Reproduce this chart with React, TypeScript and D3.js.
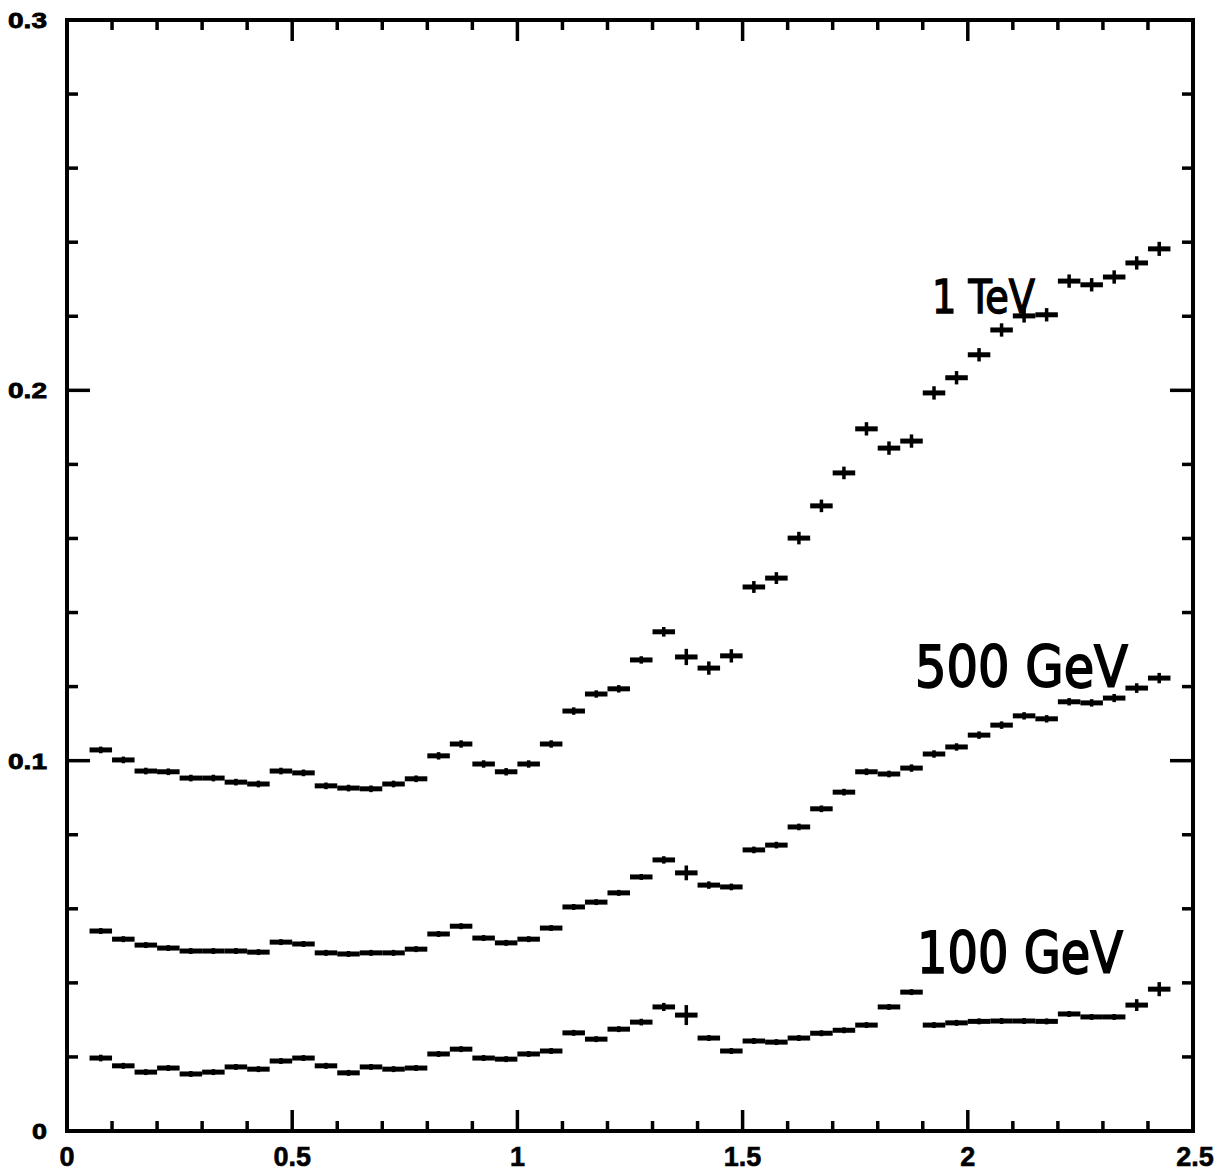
import React from "react";
import * as d3 from "d3";

// bin centres (bins of width 0.05)
const binCenters = [
  0.075, 0.125, 0.175, 0.225, 0.275, 0.325, 0.375, 0.425, 0.475, 0.525,
  0.575, 0.625, 0.675, 0.725, 0.775, 0.825, 0.875, 0.925, 0.975, 1.025,
  1.075, 1.125, 1.175, 1.225, 1.275, 1.325, 1.375, 1.425, 1.475, 1.525,
  1.575, 1.625, 1.675, 1.725, 1.775, 1.825, 1.875, 1.925, 1.975, 2.025,
  2.075, 2.125, 2.175, 2.225, 2.275, 2.325, 2.375, 2.425,
];
const binHalfWidth = 0.025;

const tev1Values = [
  0.1029, 0.1002, 0.0972, 0.097, 0.0953, 0.0953, 0.0942, 0.0937, 0.0972, 0.0967,
  0.0932, 0.0926, 0.0924, 0.0937, 0.0951, 0.1013, 0.1045, 0.0991, 0.097, 0.0991,
  0.1045, 0.1134, 0.118, 0.1194, 0.1272, 0.1348, 0.128, 0.125, 0.1283, 0.1469,
  0.1493, 0.1601, 0.1688, 0.1777, 0.1896, 0.1844, 0.1863, 0.1993, 0.2034, 0.2096,
  0.2163, 0.2201, 0.2204, 0.2295, 0.2285, 0.2306, 0.2344, 0.2382,
];
const tev1Errors = [
  0.0009, 0.0009, 0.0009, 0.0009, 0.0009, 0.0009, 0.0009, 0.0009, 0.0009, 0.0009,
  0.0009, 0.0009, 0.0009, 0.0009, 0.0009, 0.001, 0.001, 0.001, 0.001, 0.001,
  0.001, 0.001, 0.001, 0.001, 0.001, 0.0013, 0.0022, 0.0018, 0.0018, 0.0016,
  0.0016, 0.0017, 0.0017, 0.0017, 0.0018, 0.0018, 0.0018, 0.0018, 0.0018, 0.0018,
  0.0018, 0.0018, 0.0018, 0.0018, 0.0018, 0.0018, 0.0018, 0.0019,
];

const gev500Values = [
  0.054, 0.0518, 0.0502, 0.0494, 0.0486, 0.0486, 0.0486, 0.0483, 0.051, 0.0505,
  0.0481, 0.0478, 0.0481, 0.0481, 0.0491, 0.0532, 0.0553, 0.0521, 0.0508, 0.0518,
  0.0548, 0.0605, 0.0618, 0.0643, 0.0686, 0.0732, 0.0697, 0.0664, 0.0659, 0.0759,
  0.0772, 0.0821, 0.087, 0.0915, 0.097, 0.0964, 0.098, 0.1018, 0.1037, 0.1069,
  0.1096, 0.1121, 0.1113, 0.1159, 0.1156, 0.1169, 0.1196, 0.1223,
];
const gev500Errors = [
  0.0008, 0.0008, 0.0008, 0.0008, 0.0008, 0.0008, 0.0008, 0.0008, 0.0008, 0.0008,
  0.0008, 0.0008, 0.0008, 0.0008, 0.0008, 0.0008, 0.0008, 0.0008, 0.0008, 0.0008,
  0.0008, 0.0008, 0.0008, 0.0008, 0.0008, 0.001, 0.002, 0.001, 0.0009, 0.0009,
  0.0009, 0.0009, 0.0009, 0.0009, 0.0009, 0.0009, 0.001, 0.001, 0.001, 0.001,
  0.001, 0.001, 0.001, 0.001, 0.001, 0.0011, 0.0013, 0.0014,
];

const gev100Values = [
  0.0197, 0.0176, 0.0159, 0.017, 0.0154, 0.0159, 0.0173, 0.0167, 0.0189, 0.0197,
  0.0176, 0.0157, 0.0173, 0.0167, 0.017, 0.0208, 0.0221, 0.0197, 0.0194, 0.0208,
  0.0216, 0.0265, 0.0248, 0.0275, 0.0294, 0.0335, 0.0313, 0.0251, 0.0216, 0.0243,
  0.024, 0.0251, 0.0264, 0.0272, 0.0286, 0.0335, 0.0375, 0.0286, 0.0292, 0.0296,
  0.0297, 0.0297, 0.0296, 0.0316, 0.0308, 0.0308, 0.034, 0.0383,
];
const gev100Errors = [
  0.0009, 0.0008, 0.0008, 0.0008, 0.0008, 0.0008, 0.0008, 0.0008, 0.0008, 0.0008,
  0.0008, 0.0008, 0.0008, 0.0008, 0.0008, 0.0008, 0.0008, 0.0008, 0.0008, 0.0008,
  0.0008, 0.0008, 0.0008, 0.0008, 0.0009, 0.0011, 0.0027, 0.0008, 0.0008, 0.0008,
  0.0008, 0.0008, 0.0008, 0.0008, 0.0008, 0.0008, 0.0008, 0.0008, 0.0008, 0.0008,
  0.0008, 0.0008, 0.0008, 0.0008, 0.0008, 0.0008, 0.0016, 0.0019,
];

const xTickLabels = ["0", "0.5", "1", "1.5", "2", "2.5"];
const xTickValues = [0, 0.5, 1, 1.5, 2, 2.5];
const yTickLabels = ["0", "0.1", "0.2", "0.3"];
const yTickValues = [0, 0.1, 0.2, 0.3];
const xMinorTicks = [
  0.1, 0.2, 0.3, 0.4, 0.5, 0.6, 0.7, 0.8, 0.9, 1.0, 1.1, 1.2, 1.3, 1.4, 1.5, 1.6,
  1.7, 1.8, 1.9, 2.0, 2.1, 2.2, 2.3, 2.4,
];
const yMinorTicks = [
  0.02, 0.04, 0.06, 0.08, 0.1, 0.12, 0.14, 0.16, 0.18, 0.2, 0.22, 0.24, 0.26, 0.28,
];

const seriesLabels = ["1 TeV", "500 GeV", "100 GeV"];

const W = 1224;
const H = 1174;
const X0 = 67;
const X1 = 1193;
const Y0 = 1131;
const Y1 = 20;

export default function App() {
  const x = d3.scaleLinear().domain([0, 2.5]).range([X0, X1]);
  const y = d3.scaleLinear().domain([0, 0.3]).range([Y0, Y1]);

  const series = [
    { values: tev1Values, errors: tev1Errors },
    { values: gev500Values, errors: gev500Errors },
    { values: gev100Values, errors: gev100Errors },
  ];

  const isMajorX = (v: number) => Math.abs(v * 2 - Math.round(v * 2)) < 1e-6;
  const isMajorY = (v: number) => Math.abs(v * 10 - Math.round(v * 10)) < 1e-6;

  const labelFont = "'Liberation Sans', Arial, Helvetica, sans-serif";
  const handFont = "'DejaVu Sans', 'Noto Sans', sans-serif";

  return (
    <svg
      width={W}
      height={H}
      style={{ position: "absolute", left: 0, top: 0, background: "#fff" }}
    >
      <rect x={0} y={0} width={W} height={H} fill="#fff" />
      {/* ticks */}
      <g stroke="#000" strokeWidth={3.5}>
        {xMinorTicks.map((v, i) => {
          const len = isMajorX(v) ? 21 : 10;
          return (
            <g key={"xt" + i}>
              <line x1={x(v)} x2={x(v)} y1={Y0} y2={Y0 - len} />
              <line x1={x(v)} x2={x(v)} y1={Y1} y2={Y1 + len} />
            </g>
          );
        })}
        {yMinorTicks.map((v, i) => {
          const len = isMajorY(v) ? 23 : 11;
          return (
            <g key={"yt" + i}>
              <line x1={X0} x2={X0 + len} y1={y(v)} y2={y(v)} />
              <line x1={X1} x2={X1 - len} y1={y(v)} y2={y(v)} />
            </g>
          );
        })}
      </g>
      {/* frame */}
      <rect
        x={X0}
        y={Y1}
        width={X1 - X0}
        height={Y0 - Y1}
        fill="none"
        stroke="#000"
        strokeWidth={4}
      />
      {/* data */}
      {series.map((s, si) => (
        <g key={"s" + si} stroke="#000">
          {s.values.map((v, i) => {
            const c = binCenters[i];
            return (
              <g key={i}>
                <line
                  x1={x(c - binHalfWidth)}
                  x2={x(c + binHalfWidth)}
                  y1={y(v)}
                  y2={y(v)}
                  strokeWidth={5}
                />
                <line
                  x1={x(c)}
                  x2={x(c)}
                  y1={y(v - s.errors[i])}
                  y2={y(v + s.errors[i])}
                  strokeWidth={3.5}
                />
              </g>
            );
          })}
        </g>
      ))}
      {/* x tick labels */}
      {xTickValues.map((v, i) => (
        <text
          key={"xl" + i}
          x={x(v) + (i === xTickValues.length - 1 ? 2 : 0)}
          y={1166}
          textAnchor="middle"
          fontFamily={labelFont}
          fontWeight="bold"
          fontSize={27}
          stroke="#000"
          strokeWidth={0.6}
        >
          {xTickLabels[i]}
        </text>
      ))}
      {/* y tick labels */}
      {yTickValues.map((v, i) => {
        const lbl = yTickLabels[i];
        const len = lbl.length > 1 ? 39 : 15;
        return (
          <text
            key={"yl" + i}
            x={47 - len}
            y={y(v) + 8}
            fontFamily={labelFont}
            fontWeight="bold"
            fontSize={22}
            stroke="#000"
            strokeWidth={0.8}
            textLength={len}
            lengthAdjust="spacingAndGlyphs"
          >
            {lbl}
          </text>
        );
      })}
      {/* hand-written series labels */}
      <text
        x={932}
        y={313}
        fontFamily={handFont}
        fontSize={46}
        stroke="#000"
        strokeWidth={1.5}
        textLength={103}
        lengthAdjust="spacingAndGlyphs"
      >
        {seriesLabels[0]}
      </text>
      <text
        x={915}
        y={687}
        fontFamily={handFont}
        fontSize={57}
        stroke="#000"
        strokeWidth={1.8}
        textLength={213}
        lengthAdjust="spacingAndGlyphs"
      >
        {seriesLabels[1]}
      </text>
      <text
        x={917}
        y={973}
        fontFamily={handFont}
        fontSize={57}
        stroke="#000"
        strokeWidth={1.8}
        textLength={206}
        lengthAdjust="spacingAndGlyphs"
      >
        {seriesLabels[2]}
      </text>
    </svg>
  );
}
